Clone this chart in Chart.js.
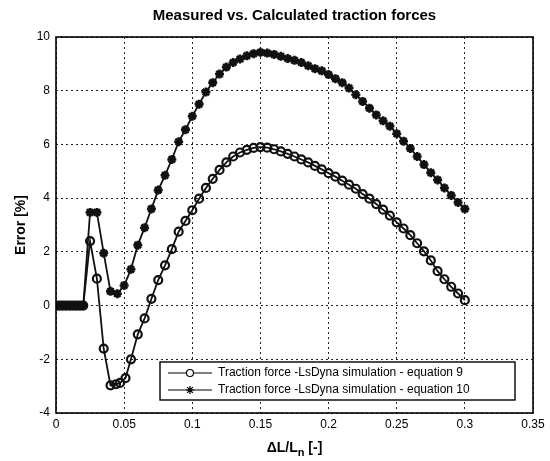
<!DOCTYPE html>
<html>
<head>
<meta charset="utf-8">
<script src="https://cdn.jsdelivr.net/npm/chart.js@4/dist/chart.umd.min.js"></script>
<style>
  html, body { margin: 0; padding: 0; background: #fff; }
  #wrap { width: 550px; height: 461px; }
</style>
</head>
<body>
<div id="wrap"><canvas id="traction-chart" width="550" height="461"></canvas></div>
<script>
// x positions (ΔL/Ln) for the equation 9 series
const xEq9 = [0, 0.0025, 0.005, 0.0075, 0.01, 0.0125, 0.015, 0.0175, 0.02,
  0.025, 0.03, 0.035, 0.04, 0.044, 0.047, 0.051, 0.055, 0.06, 0.065, 0.07,
  0.075, 0.08, 0.085, 0.09, 0.095, 0.1, 0.105, 0.11, 0.115, 0.12, 0.125,
  0.13, 0.135, 0.14, 0.145, 0.15, 0.155, 0.16, 0.165, 0.17, 0.175, 0.18,
  0.185, 0.19, 0.195, 0.2, 0.205, 0.21, 0.215, 0.22, 0.225, 0.23, 0.235,
  0.24, 0.245, 0.25, 0.255, 0.26, 0.265, 0.27, 0.275, 0.28, 0.285, 0.29,
  0.295, 0.3];
// error [%] for equation 9
const errEq9 = [0, 0, 0, 0, 0, 0, 0, 0, 0,
  2.4, 1.0, -1.6, -2.97, -2.93, -2.88, -2.7, -2.0, -1.07, -0.48, 0.25,
  0.95, 1.5, 2.1, 2.75, 3.15, 3.55, 3.98, 4.38, 4.72, 5.05, 5.33,
  5.55, 5.7, 5.8, 5.87, 5.9, 5.88, 5.82, 5.74, 5.65, 5.55, 5.44,
  5.33, 5.2, 5.07, 4.93, 4.8, 4.65, 4.5, 4.35, 4.15, 3.98, 3.78,
  3.57, 3.35, 3.1, 2.87, 2.62, 2.32, 2.02, 1.68, 1.28, 0.98, 0.7,
  0.45, 0.2];

// x positions for the equation 10 series
const xEq10 = [0, 0.0025, 0.005, 0.0075, 0.01, 0.0125, 0.015, 0.0175, 0.02,
  0.025, 0.03, 0.035, 0.04, 0.045, 0.05, 0.055, 0.06, 0.065, 0.07, 0.075,
  0.08, 0.085, 0.09, 0.095, 0.1, 0.105, 0.11, 0.115, 0.12, 0.125, 0.13,
  0.135, 0.14, 0.145, 0.15, 0.155, 0.16, 0.165, 0.17, 0.175, 0.18, 0.185,
  0.19, 0.195, 0.2, 0.205, 0.21, 0.215, 0.22, 0.225, 0.23, 0.235, 0.24,
  0.245, 0.25, 0.255, 0.26, 0.265, 0.27, 0.275, 0.28, 0.285, 0.29, 0.295,
  0.3];
// error [%] for equation 10
const errEq10 = [0, 0, 0, 0, 0, 0, 0, 0, 0,
  3.47, 3.47, 1.95, 0.53, 0.44, 0.75, 1.35, 2.25, 2.9, 3.6, 4.3,
  4.85, 5.44, 6.1, 6.55, 7.05, 7.5, 7.95, 8.3, 8.62, 8.88, 9.05,
  9.18, 9.3, 9.38, 9.43, 9.4, 9.35, 9.28, 9.2, 9.13, 9.05, 8.93,
  8.82, 8.74, 8.6, 8.45, 8.3, 8.1, 7.85, 7.6, 7.35, 7.1, 6.88,
  6.68, 6.4, 6.12, 5.85, 5.55, 5.25, 4.95, 4.68, 4.38, 4.1, 3.84,
  3.6];

const seriesLabels = [
  "Traction force -LsDyna simulation - equation 9",
  "Traction force -LsDyna simulation - equation 10"
];
const chartTitle = "Measured vs. Calculated traction forces";
const yTitle = "Error [%]";

const xTicks = { min: 0, max: 0.35, step: 0.05 };
const yTicks = { min: -4, max: 10, step: 2 };

const FONT = "'Liberation Sans', Arial, sans-serif";

function toPoints(xs, ys) {
  return xs.map((x, i) => ({ x: x, y: ys[i] }));
}

// title, axis titles, border and legend drawn on top of the chart area
const decorPlugin = {
  id: "decor",
  afterDraw(chart) {
    const ctx = chart.ctx;
    const a = chart.chartArea;
    ctx.save();
    ctx.fillStyle = "#000";
    ctx.strokeStyle = "#000";

    // plot frame
    ctx.lineWidth = 1.6;
    ctx.strokeRect(a.left, a.top, a.right - a.left, a.bottom - a.top);

    // main title
    ctx.font = "bold 15px " + FONT;
    ctx.textAlign = "center";
    ctx.textBaseline = "middle";
    ctx.fillText(chartTitle, (a.left + a.right) / 2, 16);

    // y title
    ctx.save();
    ctx.translate(21, (a.top + a.bottom) / 2);
    ctx.rotate(-Math.PI / 2);
    ctx.font = "bold 14px " + FONT;
    ctx.fillText(yTitle, 0, 0);
    ctx.restore();

    // x title with subscript n
    ctx.font = "bold 14px " + FONT;
    ctx.textAlign = "left";
    const partA = "ΔL/L", partB = "n", partC = " [-]";
    const wA = ctx.measureText(partA).width;
    const wC = ctx.measureText(partC).width;
    ctx.font = "bold 11px " + FONT;
    const wB = ctx.measureText(partB).width;
    let tx = (a.left + a.right) / 2 - (wA + wB + wC) / 2;
    const ty = 448;
    ctx.font = "bold 14px " + FONT;
    ctx.fillText(partA, tx, ty);
    ctx.font = "bold 11px " + FONT;
    ctx.fillText(partB, tx + wA, ty + 5);
    ctx.font = "bold 14px " + FONT;
    ctx.fillText(partC, tx + wA + wB, ty);

    // legend box, bottom right inside the axes
    const lx = 160, ly = 362, lw = 355, lh = 38;
    ctx.fillStyle = "#fff";
    ctx.fillRect(lx, ly, lw, lh);
    ctx.lineWidth = 1.4;
    ctx.strokeRect(lx, ly, lw, lh);
    ctx.font = "12px " + FONT;
    ctx.textBaseline = "middle";
    chart.data.datasets.forEach((ds, i) => {
      const rowY = ly + 11 + i * 17;
      ctx.strokeStyle = "#000";
      ctx.lineWidth = 1.2;
      ctx.beginPath();
      ctx.moveTo(lx + 8, rowY);
      ctx.lineTo(lx + 52, rowY);
      ctx.stroke();
      Chart.helpers.drawPoint(ctx, {
        pointStyle: ds.pointStyle,
        radius: ds.pointRadius - 0.5,
        borderWidth: ds.pointBorderWidth
      }, lx + 30, rowY);
      ctx.fillStyle = "#000";
      ctx.fillText(ds.label, lx + 58, rowY);
    });
    ctx.restore();
  }
};

document.addEventListener("DOMContentLoaded", () => {
  const ctx = document.getElementById("traction-chart").getContext("2d");

  new Chart(ctx, {
    type: "line",
    data: {
      datasets: [
        {
          label: seriesLabels[0],
          data: toPoints(xEq9, errEq9),
          borderColor: "#111",
          borderWidth: 1.8,
          pointStyle: "circle",
          pointRadius: 4,
          pointBorderWidth: 2.2,
          pointBorderColor: "#111",
          pointBackgroundColor: "rgba(255,255,255,0)",
          tension: 0
        },
        {
          label: seriesLabels[1],
          data: toPoints(xEq10, errEq10),
          borderColor: "#111",
          borderWidth: 1.8,
          pointStyle: "star",
          pointRadius: 4.5,
          pointBorderWidth: 2.6,
          pointBorderColor: "#111",
          pointBackgroundColor: "#111",
          tension: 0
        }
      ]
    },
    options: {
      responsive: false,
      animation: false,
      layout: { padding: { top: 37, right: 17, left: 0, bottom: 0 } },
      plugins: {
        legend: { display: false },
        title: { display: false },
        tooltip: { enabled: false }
      },
      scales: {
        x: {
          type: "linear",
          min: xTicks.min,
          max: xTicks.max,
          afterFit: s => { s.height = 48; },
          ticks: {
            stepSize: xTicks.step,
            color: "#000",
            padding: 4,
            font: { family: FONT, size: 12 },
            callback: v => String(Math.round(v * 100) / 100)
          },
          grid: {
            color: "#222",
            lineWidth: 1,
            drawTicks: false
          },
          border: { display: false, dash: [2, 3] }
        },
        y: {
          type: "linear",
          min: yTicks.min,
          max: yTicks.max,
          afterFit: s => { s.width = 56; },
          ticks: {
            stepSize: yTicks.step,
            color: "#000",
            padding: 6,
            font: { family: FONT, size: 12 }
          },
          grid: {
            color: "#222",
            lineWidth: 1,
            drawTicks: false
          },
          border: { display: false, dash: [2, 3] }
        }
      }
    },
    plugins: [decorPlugin]
  });
});
</script>
</body>
</html>
